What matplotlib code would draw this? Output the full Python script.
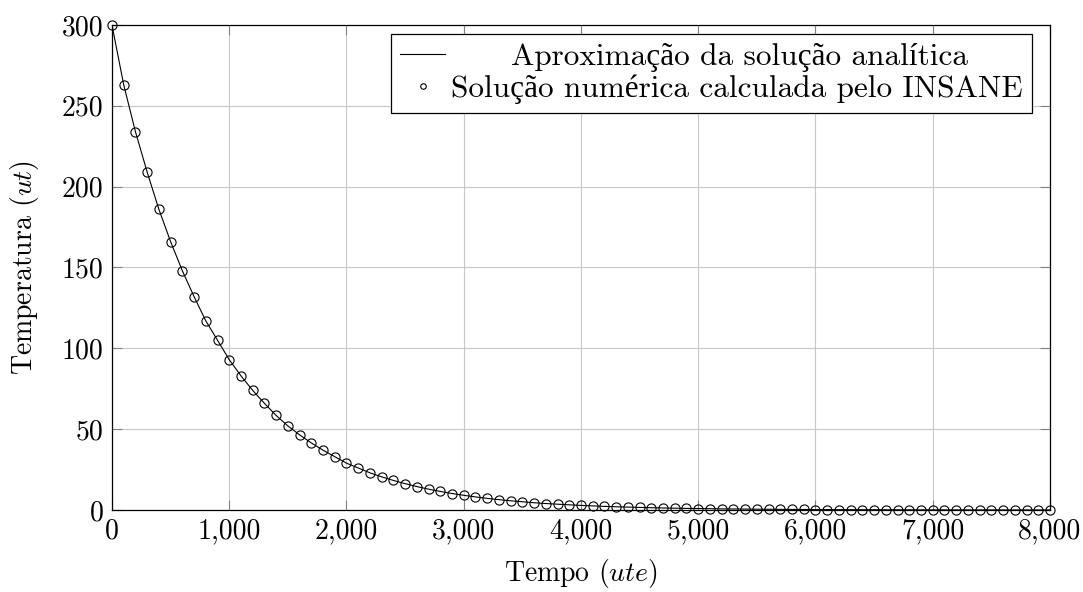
import matplotlib
matplotlib.use("Agg")
import matplotlib.pyplot as plt
from matplotlib.ticker import FuncFormatter, MultipleLocator

plt.rcParams["font.family"] = ["cmr10", "Liberation Serif"]
plt.rcParams["mathtext.fontset"] = "cm"
plt.rcParams["axes.formatter.use_mathtext"] = True

# Time samples (ute) and temperature (ut)
tempo = list(range(0, 8001, 100))
temperatura = [
    300, 263, 234, 209, 186, 166, 148, 132, 117, 105,
    93, 83, 74, 66, 58.5, 52, 46.5, 41.5, 37, 33,
    29, 26, 23, 20.5, 18.3, 16.3, 14.5, 12.9, 11.5, 10.2,
    9.1, 8.1, 7.2, 6.4, 5.7, 5.1, 4.5, 4.0, 3.6, 3.2,
    2.85, 2.55, 2.25, 2.0, 1.8, 1.6, 1.42, 1.27, 1.13, 1.0,
    0.9, 0.8, 0.71, 0.63, 0.56, 0.5, 0.45, 0.4, 0.35, 0.32,
    0.28, 0.25, 0.22, 0.2, 0.18, 0.16, 0.14, 0.12, 0.11, 0.1,
    0.09, 0.08, 0.07, 0.06, 0.055, 0.05, 0.045, 0.04, 0.035, 0.03,
    0.027,
]

label_analitica = "Aproximação da solução analítica"
label_numerica = "Solução numérica calculada pelo INSANE"

FS = 20
FS_LEG = 22.5

fig = plt.figure(figsize=(10.83, 5.92), dpi=100)
ax = fig.add_axes([0.1034, 0.1385, 0.8661, 0.8193])

ax.plot(tempo, temperatura, color="black", lw=0.8, label=label_analitica, zorder=3)
ax.plot(tempo, temperatura, ls="none", marker="o", ms=6.6, mfc="none",
        mec="black", mew=0.8, label=label_numerica, zorder=6, clip_on=False)

ax.set_xlim(0, 8000)
ax.set_ylim(0, 300)
ax.xaxis.set_major_locator(MultipleLocator(1000))
ax.yaxis.set_major_locator(MultipleLocator(50))
ax.xaxis.set_major_formatter(FuncFormatter(lambda v, p: f"{v:,.0f}"))
ax.yaxis.set_major_formatter(FuncFormatter(lambda v, p: f"{v:.0f}"))

ax.grid(True, color="#c8c8c8", lw=0.8, zorder=0)
ax.tick_params(direction="in", length=7, width=0.8, color="#808080",
               top=True, right=True, labelsize=FS, pad=6)
for s in ax.spines.values():
    s.set_linewidth(0.9)
    s.set_zorder(5)

ax.set_xlabel(r"Tempo ($ute$)", fontsize=FS, labelpad=9)
ax.set_ylabel(r"Temperatura ($ut$)", fontsize=FS, labelpad=15)

leg = ax.legend(loc="upper right", bbox_to_anchor=(0.9808, 0.9814),
                fontsize=FS_LEG, frameon=True, fancybox=False,
                edgecolor="black", framealpha=1, borderaxespad=0,
                handlelength=1.45, handletextpad=0.2, borderpad=0.28,
                labelspacing=0.1, markerscale=0.6)
leg.get_frame().set_linewidth(0.9)
leg.set_zorder(7)
leg.get_texts()[0].set_x(60)

fig.savefig("out.png", dpi=100)
